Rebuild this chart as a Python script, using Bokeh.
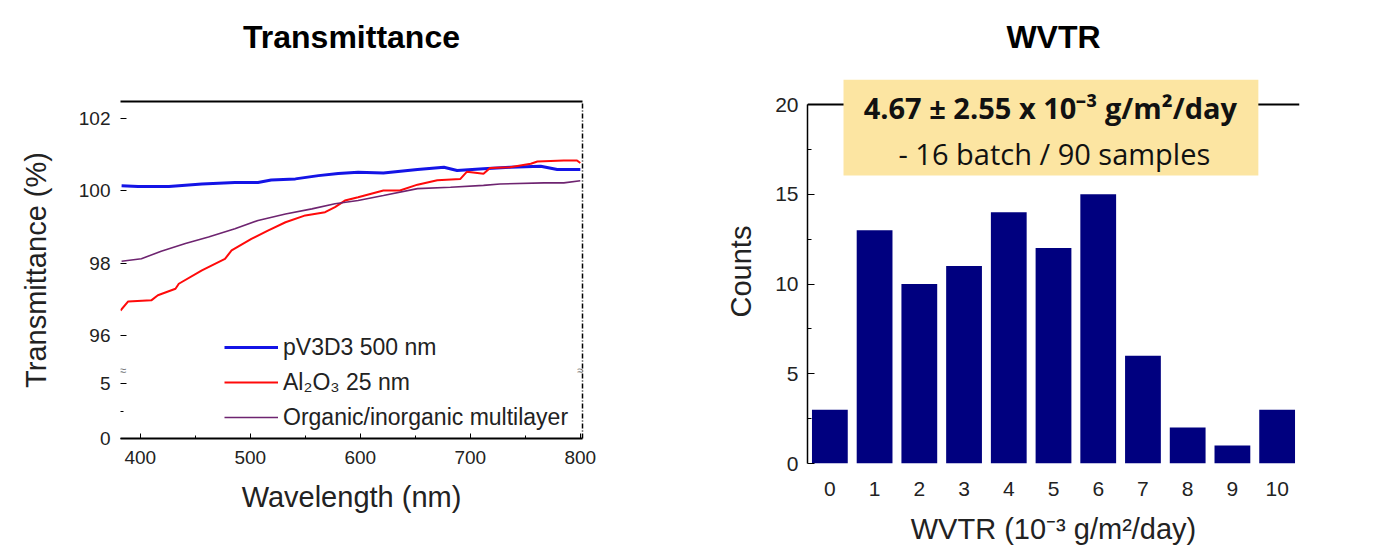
from bokeh.plotting import figure
from bokeh.models import (Range1d, FixedTicker, LinearAxis, Span, BoxAnnotation,
                          Label, Legend, LegendItem, Title)
from bokeh.embed import file_html
from bokeh.resources import INLINE

# ---------------- data ----------------
# Transmittance (%) vs wavelength (nm)
wl_pv3d3 = [383, 398, 426, 456, 486, 507, 519, 541, 562, 580, 598, 621, 652, 676, 688, 712, 736, 764, 779, 800]
t_pv3d3 = [100.14, 100.12, 100.12, 100.19, 100.23, 100.23, 100.30, 100.33, 100.42, 100.48,
           100.51, 100.49, 100.59, 100.65, 100.56, 100.61, 100.65, 100.68, 100.59, 100.59]

wl_al2o3 = [382, 389, 410, 416, 432, 435, 456, 477, 483, 501, 516, 532, 550, 568, 577, 586,
            598, 621, 636, 652, 670, 691, 697, 712, 718, 736, 755, 761, 785, 797, 800]
t_al2o3 = [96.69, 96.94, 96.97, 97.11, 97.29, 97.43, 97.80, 98.12, 98.35, 98.67, 98.90, 99.13,
           99.32, 99.41, 99.55, 99.73, 99.82, 100.01, 100.01, 100.17, 100.29, 100.33, 100.53,
           100.47, 100.63, 100.65, 100.75, 100.81, 100.84, 100.84, 100.77]

wl_multi = [383, 401, 419, 441, 462, 486, 507, 532, 556, 577, 598, 621, 652, 682, 712, 727, 767, 785, 800]
t_multi = [98.05, 98.12, 98.33, 98.54, 98.72, 98.95, 99.18, 99.36, 99.50, 99.64, 99.73, 99.87,
           100.06, 100.10, 100.15, 100.19, 100.22, 100.22, 100.28]

series_labels = ["pV3D3 500 nm", "Al\u2082O\u2083 25 nm", "Organic/inorganic multilayer"]
wl_ticks = [400, 500, 600, 700, 800]
wl_minor = [450, 550, 650, 750]
upper_ticks = [96, 98, 100, 102]
lower_ticks = [0, 5]
lower_minor = [2.5]

# WVTR histogram
wvtr_bins = [0, 1, 2, 3, 4, 5, 6, 7, 8, 9, 10]
counts = [3, 13, 10, 11, 14, 12, 15, 6, 2, 1, 3]
count_ticks = [0, 5, 10, 15, 20]
count_minor = [2.5, 7.5, 12.5, 17.5]

# ---------------- styles ----------------
AX_FONT = "Liberation Sans"
BOX_FONT = "Open Sans"
BREAK_BASE = 93.15     # where the lower (0-5) segment starts on the broken axis
BREAK_SCALE = 0.304    # compression of lower segment


def low(v):
    return round(BREAK_BASE + v * BREAK_SCALE, 3)


def style_axis(ax, label, tick_size, label_standoff, tick_standoff):
    ax.axis_label = label
    ax.major_label_standoff = tick_standoff
    ax.axis_label_standoff = label_standoff
    ax.major_label_text_font = AX_FONT
    ax.major_label_text_font_size = tick_size
    ax.major_label_text_color = "#222222"
    ax.axis_label_text_font = AX_FONT
    ax.axis_label_text_font_size = "29px"
    ax.axis_label_text_font_style = "normal"
    ax.axis_label_text_color = "#222222"


def style_title(p, text, gap):
    p.title.text = text
    p.title.align = "center"
    p.title.text_font = AX_FONT
    p.title.text_font_style = "bold"
    p.title.text_font_size = "32px"
    p.title.text_color = "black"
    p.title.standoff = 10
    # invisible spacer between the frame and the title
    p.add_layout(Title(text=" ", text_font_size="1px", standoff=gap), "above")


# ---------------- left: transmittance ----------------
p1 = figure(width=698, height=552, x_range=Range1d(382, 802), y_range=Range1d(93.15, 102.47),
            output_backend="svg", toolbar_location=None,
            min_border_left=120, min_border_right=116, min_border_top=101, min_border_bottom=114)
p1.grid.visible = False
p1.outline_line_color = None
p1.styles = {"position": "absolute", "left": "0px", "top": "0px"}

r_b = p1.line(wl_pv3d3, t_pv3d3, line_color="#1414E6", line_width=3)
r_r = p1.line(wl_al2o3, t_al2o3, line_color="#FF0A0A", line_width=2)
r_m = p1.line(wl_multi, t_multi, line_color="#6E2470", line_width=1.6)

xa = p1.xaxis[0]
xa.ticker = FixedTicker(ticks=wl_ticks, minor_ticks=wl_minor)
xa.axis_line_width = 2
xa.major_tick_in = 5
xa.major_tick_out = 0
xa.minor_tick_in = 3
xa.minor_tick_out = 0
style_axis(xa, "Wavelength (nm)", "19px", 14, 12)

ya = p1.yaxis[0]
yt = [low(v) for v in lower_ticks] + upper_ticks
ya.ticker = FixedTicker(ticks=yt, minor_ticks=[low(v) for v in lower_minor])
overrides = {low(v): str(v) for v in lower_ticks}
overrides.update({float(v): str(v) for v in upper_ticks})
ya.major_label_overrides = overrides
ya.axis_line_color = None
ya.major_tick_in = 6
ya.major_tick_out = 0
ya.minor_tick_in = 3
ya.minor_tick_out = 0
style_axis(ya, "Transmittance (%)", "19px", 24, 10)

top_ax = LinearAxis(ticker=FixedTicker(ticks=[]), axis_line_width=2,
                    major_tick_line_color=None, minor_tick_line_color=None,
                    major_label_text_font_size="0px")
p1.add_layout(top_ax, "above")
right_ax = LinearAxis(ticker=FixedTicker(ticks=[]), axis_line_width=1.5, axis_line_dash="5 2 1 2",
                      major_tick_line_color=None, minor_tick_line_color=None,
                      major_label_text_font_size="0px")
p1.add_layout(right_ax, "right")
style_title(p1, "Transmittance", 39)

legend = Legend(items=[LegendItem(label=series_labels[0], renderers=[r_b]),
                       LegendItem(label=series_labels[1], renderers=[r_r]),
                       LegendItem(label=series_labels[2], renderers=[r_m])],
                location=(104, 6), padding=0, spacing=5, glyph_width=54, glyph_height=30,
                label_height=30, label_standoff=5, label_text_font=AX_FONT,
                label_text_font_size="23px", label_text_color="#222222",
                background_fill_alpha=0, border_line_color=None)
p1.add_layout(legend)

for bx in (2, 460):
    p1.add_layout(Label(x=bx, y=68, x_units="screen", y_units="screen", text="\u2248",
                        text_font_size="13px", text_color="#777777",
                        text_align="center", text_baseline="middle"))

# ---------------- right: WVTR histogram ----------------
p2 = figure(width=701, height=552, x_range=Range1d(-0.5, 10.5), y_range=Range1d(0, 21.393),
            output_backend="svg", toolbar_location=None,
            min_border_left=109, min_border_right=100, min_border_top=79, min_border_bottom=89)
p2.grid.visible = False
p2.outline_line_color = None
p2.styles = {"position": "absolute", "left": "698px", "top": "0px"}
style_title(p2, "WVTR", 17)

p2.add_layout(Span(location=20, dimension="width", line_color="black", line_width=2))
p2.add_layout(BoxAnnotation(left=0.305, right=9.58, bottom=16.04, top=21.393,
                            fill_color="#FCE5A2", fill_alpha=1.0, line_color=None))
p2.vbar(x=wvtr_bins, top=counts, width=0.8, fill_color="#00007F", line_color=None)

xb = p2.xaxis[0]
xb.ticker = FixedTicker(ticks=wvtr_bins)
xb.axis_line_color = None
xb.major_tick_line_color = None
xb.minor_tick_line_color = None
style_axis(xb, "WVTR (10\u207b\u00b3 g/m\u00b2/day)", "21px", 14, 12)

yb = p2.yaxis[0]
yb.ticker = FixedTicker(ticks=count_ticks, minor_ticks=count_minor)
yb.bounds = (0, 20)
yb.axis_line_width = 1.5
yb.major_tick_in = 7
yb.major_tick_out = 0
yb.minor_tick_in = 4
yb.minor_tick_out = 0
style_axis(yb, "Counts", "21px", 15, 9)

p2.add_layout(Label(x=4.93, y=19.83, text="4.67 \u00b1 2.55 x 10\u207b\u00b3 g/m\u00b2/day",
                    text_font=BOX_FONT, text_font_style="bold", text_font_size="29px",
                    text_align="center", text_baseline="middle", text_color="#111111"))
p2.add_layout(Label(x=5.02, y=17.27, text="- 16 batch / 90 samples",
                    text_font=BOX_FONT, text_font_size="29px",
                    text_align="center", text_baseline="middle", text_color="#111111"))

open("out.html", "w").write(file_html([p1, p2], INLINE))
